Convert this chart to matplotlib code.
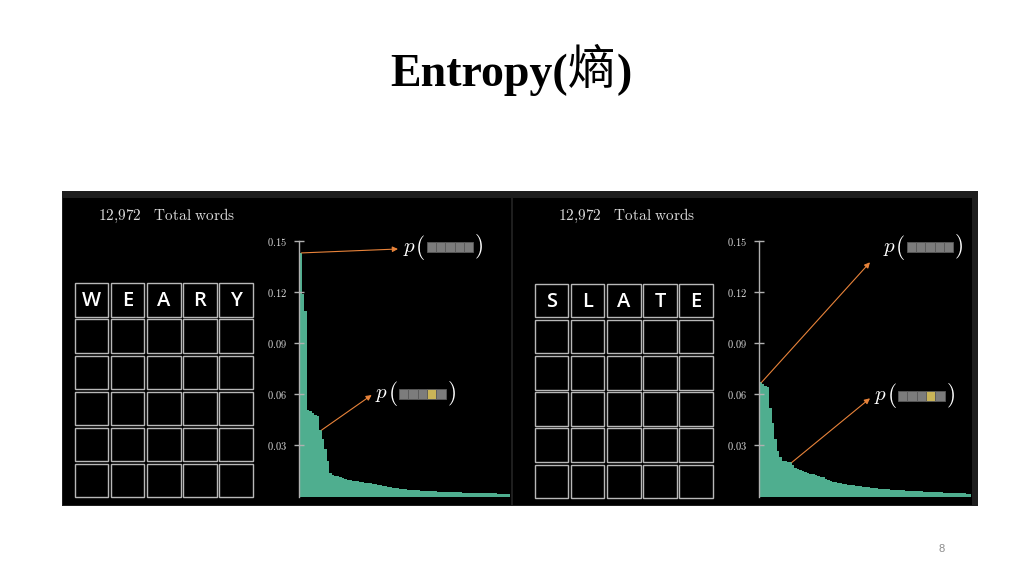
import matplotlib
matplotlib.use("Agg")
import matplotlib.pyplot as plt
from matplotlib.patches import Rectangle

plt.rcParams['mathtext.fontset'] = 'cm'

title_latin = 'Entropy('
title_cjk = '熵'
title_close = ')'
page_no = '8'
total_words = '12,972'

# guesses and their sorted feedback-pattern probabilities
guess_left = ['W', 'E', 'A', 'R', 'Y']
guess_right = ['S', 'L', 'A', 'T', 'E']

weary_probs = [0.143, 0.119, 0.109, 0.051, 0.050, 0.049, 0.048, 0.047, 0.039, 0.034,
               0.028, 0.021, 0.014, 0.0125, 0.012, 0.0118, 0.0115, 0.011, 0.0105, 0.0098,
               0.0094, 0.0092, 0.0090, 0.0089, 0.0087, 0.0085, 0.0082, 0.0080, 0.0077, 0.0074,
               0.0071, 0.0068, 0.0065, 0.0062, 0.0060, 0.0058, 0.0055, 0.0052, 0.0050, 0.0048,
               0.0046, 0.0045, 0.0043, 0.0041, 0.0040, 0.0038, 0.0037, 0.0036, 0.0035, 0.0034,
               0.0033, 0.0032, 0.0031, 0.0030, 0.0030, 0.0029, 0.0028, 0.0028, 0.0027, 0.0026,
               0.0026, 0.0025, 0.0025, 0.0024, 0.0024, 0.0023, 0.0023, 0.0022, 0.0022, 0.0021,
               0.0021, 0.0020, 0.0020, 0.0020, 0.0019, 0.0019, 0.0018, 0.0018, 0.0018, 0.0017,
               0.0017, 0.0016, 0.0016, 0.0015]

slate_probs = [0.067, 0.066, 0.065, 0.064, 0.052, 0.043, 0.034, 0.027, 0.023, 0.021,
               0.021, 0.0205, 0.020, 0.0185, 0.017, 0.016, 0.0155, 0.015, 0.0145, 0.014,
               0.0135, 0.013, 0.0125, 0.012, 0.0116, 0.0112, 0.0105, 0.0098, 0.0092, 0.0088,
               0.0084, 0.0080, 0.0077, 0.0074, 0.0071, 0.0069, 0.0067, 0.0065, 0.0063, 0.0061,
               0.0059, 0.0057, 0.0055, 0.0053, 0.0051, 0.0049, 0.0047, 0.0046, 0.0045, 0.0044,
               0.0043, 0.0042, 0.0041, 0.0040, 0.0039, 0.0038, 0.0037, 0.0036, 0.0035, 0.0034,
               0.0033, 0.0032, 0.0031, 0.0031, 0.0030, 0.0029, 0.0028, 0.0028, 0.0027, 0.0026,
               0.0025, 0.0024, 0.0024, 0.0023, 0.0022, 0.0022, 0.0021, 0.0020, 0.0020, 0.0019,
               0.0018, 0.0018, 0.0017, 0.0017]

yticks = [0.03, 0.06, 0.09, 0.12, 0.15]
ytick_labels = ['0.03', '0.06', '0.09', '0.12', '0.15']

# which bar each arrow starts from (index into the probability list)
weary_arrow_bars = [0, 8]
slate_arrow_bars = [0, 12]

W, H = 1024, 576
bar_color = '#4fae8f'
arrow_color = '#e8833a'

fig = plt.figure(figsize=(W / 100, H / 100), dpi=100)
fig.patch.set_facecolor('white')

# pixel-coordinate background layer
bg = fig.add_axes([0, 0, 1, 1], zorder=0)
bg.set_xlim(0, W)
bg.set_ylim(H, 0)
bg.axis('off')

bg.add_patch(Rectangle((62, 191), 916, 315, color='#1e1e1e', lw=0))
bg.add_patch(Rectangle((63, 198), 447.5, 307, color='black', lw=0))
bg.add_patch(Rectangle((513, 198), 459, 307, color='black', lw=0))

# overlay layer for arrows and p(...) labels
top = fig.add_axes([0, 0, 1, 1], zorder=3)
top.set_xlim(0, W)
top.set_ylim(H, 0)
top.axis('off')
top.patch.set_alpha(0)


def draw_grid(ax, left, top_y, letters):
    pitch, size = 36.1, 33.3
    for r in range(6):
        for c in range(5):
            x = left + c * pitch
            y = top_y + r * pitch
            ax.add_patch(Rectangle((x, y), size, size, fill=False,
                                   edgecolor='#b8b8b8', lw=1.0))
            if r == 0:
                ax.text(x + size / 2, y + size / 2 + 1, letters[c], color='white',
                        fontsize=14.5, fontweight='semibold', ha='center', va='center',
                        family='Open Sans')


def draw_bars(rect_px, probs):
    l, t, w, h = rect_px
    ax = fig.add_axes([l / W, 1 - (t + h) / H, w / W, h / H], zorder=1)
    ax.bar(range(len(probs)), probs, width=1.0, color=bar_color, lw=0)
    ax.set_xlim(-0.5, len(probs) - 0.5)
    ax.set_ylim(0, 0.15)
    ax.patch.set_alpha(0)
    for s in ['top', 'right', 'bottom']:
        ax.spines[s].set_visible(False)
    ax.spines['left'].set_color('#b0b0b0')
    ax.spines['left'].set_linewidth(1.0)
    ax.set_xticks([])
    ax.set_yticks(yticks)
    ax.set_yticklabels(['$' + s + '$' for s in ytick_labels])
    ax.tick_params(axis='y', direction='inout', length=7, width=1.0,
                   colors='#b0b0b0', labelcolor='#dcdcdc', labelsize=7.5, pad=5)
    return ax


def draw_p(ax, box_left, yc, highlight=None):
    bw, bh = 9.3, 9.5
    ax.text(box_left - 17, yc + 0.5, '$p$', color='white', fontsize=15,
            ha='center', va='center')
    ax.text(box_left - 6.5, yc, '$($', color='white', fontsize=17,
            ha='center', va='center')
    for i in range(5):
        col = '#c9b458' if i == highlight else '#7c7c7c'
        ax.add_patch(Rectangle((box_left + i * bw, yc - bh / 2), bw, bh,
                               facecolor=col, edgecolor='#5a5a5a', lw=0.6))
    ax.text(box_left + 5 * bw + 5.5, yc, '$)$', color='white', fontsize=17,
            ha='center', va='center')


def arrow(bar_ax, probs, idx, end):
    top.annotate('', xy=end, xycoords='data',
                 xytext=(idx + 0.5, probs[idx]), textcoords=bar_ax.transData,
                 arrowprops=dict(arrowstyle='-|>', color=arrow_color, lw=0.8,
                                 mutation_scale=8, shrinkA=0, shrinkB=0))


words_label = r'$\mathrm{' + total_words.replace(',', '{,}') + r'\ \ \ Total\ words}$'

# left panel: WEARY
bg.text(98, 216, words_label, color='#dcdcdc', fontsize=11, ha='left', va='center')
draw_grid(bg, 75, 283.3, guess_left)
ax1 = draw_bars((299, 241, 211, 255.5), weary_probs)
draw_p(top, 426.7, 247)
draw_p(top, 399, 394, highlight=3)
arrow(ax1, weary_probs, weary_arrow_bars[0], (398, 249))
arrow(ax1, weary_probs, weary_arrow_bars[1], (371.7, 395))

# right panel: SLATE
bg.text(558, 216, words_label, color='#dcdcdc', fontsize=11, ha='left', va='center')
draw_grid(bg, 535, 284, guess_right)
ax2 = draw_bars((759, 241, 212, 255.5), slate_probs)
draw_p(top, 906.7, 247)
draw_p(top, 898, 396, highlight=3)
arrow(ax2, slate_probs, slate_arrow_bars[0], (870, 262.3))
arrow(ax2, slate_probs, slate_arrow_bars[1], (870, 398.3))

# slide title: bold latin part, regular-weight CJK character, chained left to right
t1 = bg.text(390, 86, title_latin, fontsize=33, fontweight='bold',
             family='Liberation Serif', ha='left', va='baseline')
t2 = bg.annotate(title_cjk, xy=(1, 0), xycoords=t1, xytext=(0.5, 0.5), textcoords='offset points',
                 fontsize=34, family='Noto Sans CJK SC', ha='left', va='bottom')
bg.annotate(title_close, xy=(1, 0), xycoords=t2, xytext=(0.5, -0.5), textcoords='offset points',
            fontsize=33, fontweight='bold', family='Liberation Serif', ha='left', va='bottom')

fig.text(942 / W, 1 - 549 / H, page_no, fontsize=8, color='#8c8c8c',
         family='Liberation Sans', ha='center', va='center')

fig.savefig('out.png', dpi=100, facecolor='white')
